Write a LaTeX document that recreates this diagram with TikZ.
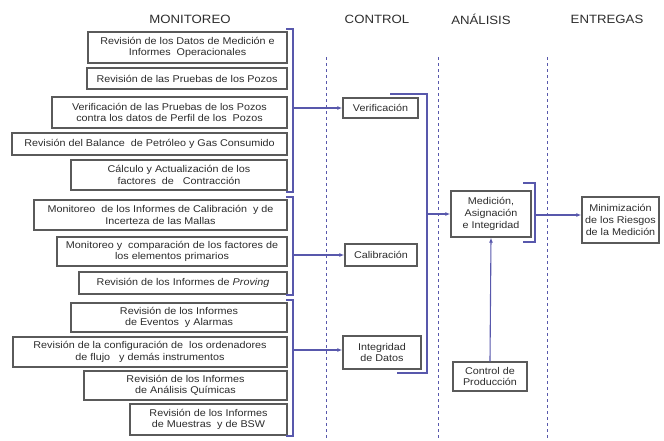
\documentclass[tikz,border=0pt]{standalone}
\usepackage{fontspec}
\setmainfont{Liberation Sans}[FakeStretch=1.1]
\usetikzlibrary{arrows.meta}
\definecolor{lblue}{RGB}{88,88,172}
\definecolor{bgray}{RGB}{90,90,90}
\definecolor{tgray}{RGB}{45,45,45}
\begin{document}
\begin{tikzpicture}[x=1pt,y=-1pt,
  box/.style={draw=bgray, line width=1.4pt, fill=white, inner sep=1pt, align=center,
    text=tgray, font=\fontsize{9.8}{11.6}\selectfont, anchor=center},
  hdr/.style={text=tgray, font=\fontsize{12}{13}\selectfont, anchor=center},
  conn/.style={draw=lblue, line width=1.1pt},
  arr/.style={conn, -{Latex[length=5pt,width=4pt]}},
  sep/.style={draw=lblue, line width=0.8pt, dash pattern=on 3pt off 3pt}]
\useasboundingbox (0,0) rectangle (664,440);
% headers
\node[hdr] (hm) at (190,19) {MONITOREO};
\node[hdr] (hc) at (377,19) {CONTROL};
\node[hdr] (ha) at (481,19) {ANÁLISIS};
\node[hdr] (he) at (607,19) {ENTREGAS};
% separators
\coordinate (s1t) at (326,57); \coordinate (s1b) at (326,440);
\coordinate (s2t) at (438,57); \coordinate (s2b) at (438,440);
\coordinate (s3t) at (547,57); \coordinate (s3b) at (547,440);
\draw[sep] (s1t) -- (s1b);
\draw[sep] (s2t) -- (s2b);
\draw[sep] (s3t) -- (s3b);
% monitoring boxes
\node[box, minimum width=199pt, minimum height=31pt] (m1) at (187.5,47.5) {Revisión de los Datos de Medición e\\Informes \ Operacionales};
\node[box, minimum width=200pt, minimum height=21pt] (m2) at (187,78.5) {Revisión de las Pruebas de los Pozos};
\node[box, minimum width=235pt, minimum height=31pt] (m3) at (169.5,112.5) {Verificación de las Pruebas de los Pozos\\contra los datos de Perfil de los \ Pozos};
\node[box, minimum width=275pt, minimum height=22pt] (m4) at (149.5,144) {Revisión del Balance \ de Petróleo y Gas Consumido};
\node[box, minimum width=216pt, minimum height=30pt] (m5) at (179,175) {Cálculo y Actualización de los\\factores \ de \ \ Contracción};
\node[box, minimum width=253pt, minimum height=30pt] (m6) at (160.5,215) {Monitoreo \ de los Informes de Calibración \ y de\\Incerteza de las Mallas};
\node[box, minimum width=230pt, minimum height=29pt] (m7) at (172,251.5) {Monitoreo y \ comparación de los factores de\\los elementos primarios};
\node[box, minimum width=208pt, minimum height=22pt] (m8) at (183,283) {Revisión de los Informes de \textit{Proving}};
\node[box, minimum width=216pt, minimum height=29pt] (m9) at (179,317.5) {Revisión de los Informes\\de Eventos \ y Alarmas};
\node[box, minimum width=274pt, minimum height=30pt] (m10) at (150,352) {Revisión de la configuración de \ los ordenadores\\de flujo \ \ y demás instrumentos};
\node[box, minimum width=203pt, minimum height=29pt] (m11) at (185.5,385.5) {Revisión de los Informes\\de Análisis Químicas};
\node[box, minimum width=157pt, minimum height=31pt] (m12) at (208.5,419.5) {Revisión de los Informes\\de Muestras \ y de BSW};
% control boxes
\node[box, minimum width=75pt, minimum height=20pt] (ver) at (380.5,108) {Verificación};
\node[box, minimum width=72pt, minimum height=22pt] (cal) at (381,255) {Calibración};
\node[box, minimum width=78pt, minimum height=33pt] (int) at (382,352.5) {Integridad\\de Datos};
% analysis
\node[box, minimum width=80pt, minimum height=46pt] (med) at (491,214) {Medición,\\Asignación\\e Integridad};
\node[box, minimum width=74pt, minimum height=29pt] (prod) at (490,376.5) {Control de\\Producción};
% deliverables
\node[box, minimum width=77pt, minimum height=46pt] (min) at (620.5,220) {Minimización\\de los Riesgos\\de la Medición};
% monitoring brackets
\coordinate (b1t) at (286,29); \coordinate (b1b) at (286,192);
\coordinate (b2t) at (286,197); \coordinate (b2b) at (286,295);
\coordinate (b3t) at (286,300); \coordinate (b3b) at (286,436);
\draw[conn] (b1t) -| (293,110) |- (b1b);
\draw[conn] (b2t) -| (293,250) |- (b2b);
\draw[conn] (b3t) -| (293,350) |- (b3b);
\coordinate (a1) at (293,108);
\coordinate (a2) at (293,255);
\coordinate (a3) at (293,350);
\draw[arr] (a1) -- (a1 -| ver.west);
\draw[arr] (a2) -- (a2 -| cal.west);
\draw[arr] (a3) -- (a3 -| int.west);
% control bracket
\coordinate (cbt) at (390,94); \coordinate (cbb) at (397,373);
\draw[conn] (cbt) -| (427,200) |- (cbb);
\coordinate (a4) at (427,214);
\draw[arr] (a4) -- (a4 -| med.west);
% analysis bracket
\coordinate (abt) at (523,183); \coordinate (abb) at (523,242);
\draw[conn] (abt) -| (535,215) |- (abb);
\coordinate (a5) at (535,215);
\draw[arr] (a5) -- (a5 -| min.west);
% production arrow
\draw[arr] (prod.north) -- (med.south);
\end{tikzpicture}
\end{document}
